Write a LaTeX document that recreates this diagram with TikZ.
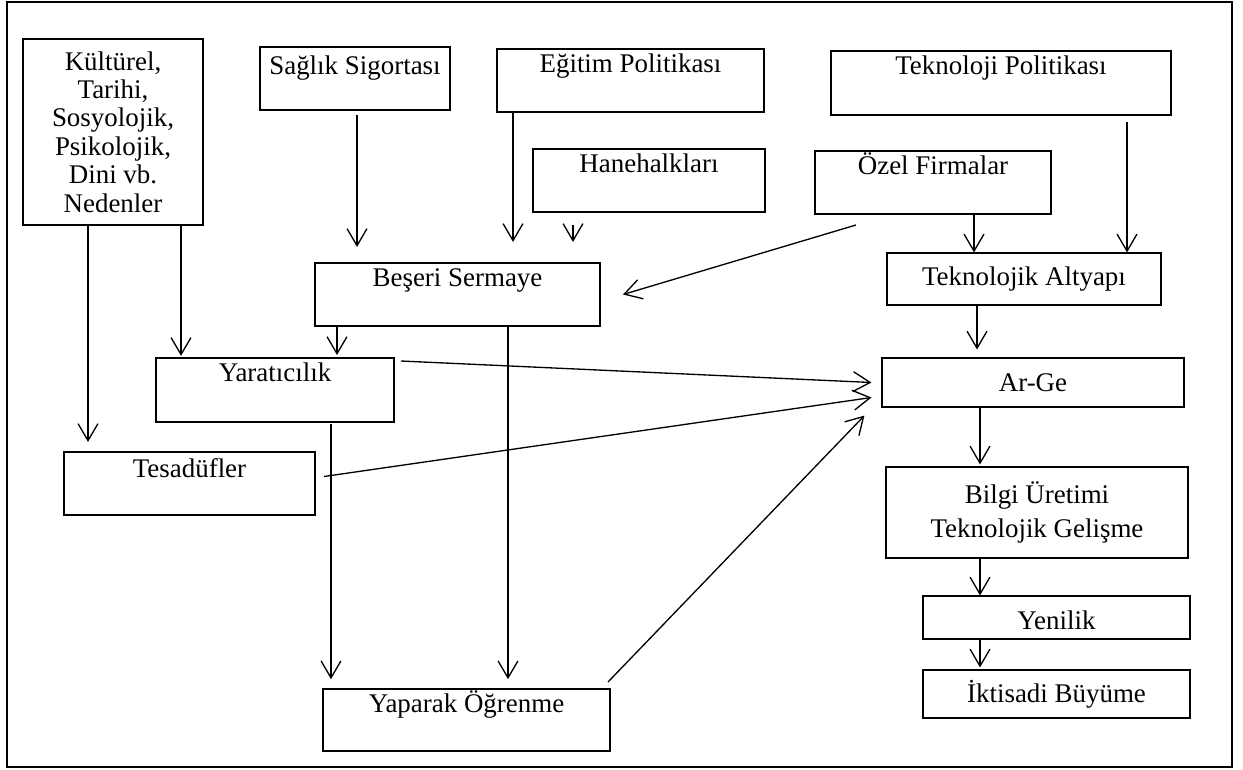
\documentclass[tikz,border=0pt]{standalone}
\usepackage{fontspec}
\setmainfont{Liberation Serif}
\usetikzlibrary{arrows.meta}
\tikzset{
    box/.style={draw,line width=0.9pt,inner sep=0pt},
    thinbox/.style={draw,line width=0.5pt,inner sep=0pt},
    sz/.style 2 args={minimum width=#1*0.453pt,minimum height=#2*0.453pt},
    toptext/.style={anchor=base,yshift=-#1,inner sep=0pt},
    arr/.style={line width=0.6pt,-{Straight Barb[length=7.7pt,width=9pt]}}
}
\begin{document}
\begin{tikzpicture}[x=0.453pt,y=-0.453pt,font=\fontsize{12.2}{12.9}\selectfont]
    \useasboundingbox (0,0) rectangle (1243,769);
    \draw[line width=0.9pt] (7,2) rectangle (1232,767);

    % left and middle column
    \node[box,sz={180}{186},align=center] (kultur) at (113,132)
        {Kültürel,\\Tarihi,\\Sosyolojik,\\Psikolojik,\\Dini vb.\\Nedenler};
    \node[box,sz={190}{63},label={[toptext=12.7pt]north:Sağlık Sigortası}] (saglik) at (355,78.5) {};
    \node[box,sz={267}{63},label={[toptext=11.3pt]north:Eğitim Politikası}] (egitim) at (630.5,80.5) {};
    \node[box,sz={232}{63},label={[toptext=10.9pt]north:Hanehalkları}] (hane) at (649,180.5) {};
    \node[box,sz={285}{63},label={[toptext=10.9pt]north:Beşeri Sermaye}] (beseri) at (457.5,294.5) {};
    \node[box,sz={238}{64},label={[toptext=11.3pt]north:Yaratıcılık}] (yarat) at (275,390) {};
    \node[box,sz={251}{63},label={[toptext=12.2pt]north:Tesadüfler}] (tesad) at (189.5,483.5) {};
    \node[box,sz={287}{62},label={[toptext=10.9pt]north:Yaparak Öğrenme}] (yaparak) at (466.5,720) {};

    % right column
    \node[box,sz={340}{64},label={[toptext=11.3pt]north:Teknoloji Politikası}] (teknopol) at (1001,83) {};
    \node[box,sz={236}{63},label={[toptext=11.3pt]north:Özel Firmalar}] (ozel) at (933,182.5) {};
    \node[thinbox,sz={274}{52}] (altyapi) at (1024,279) {Teknolojik Altyapı};
    \node[thinbox,sz={302}{49}] (arge) at (1033,382.5) {Ar-Ge};
    \node[thinbox,sz={302}{91},align=center,font=\fontsize{12.2}{15.4}\selectfont] (bilgi) at (1037,512.5)
        {Bilgi Üretimi\\Teknolojik Gelişme};
    \node[thinbox,sz={267}{43},label={[toptext=15.4pt]north:Yenilik}] (yenilik) at (1056.5,617.5) {};
    \node[thinbox,sz={267}{48}] (buyume) at (1056.5,694) {İktisadi Büyüme};

    % arrows
    \draw[arr,shorten >=4.1pt] (88,0 |- kultur.south) -- (88,0 |- tesad.north);
    \draw[arr,shorten >=0.5pt] (181,0 |- kultur.south) -- (181,0 |- yarat.north);
    \draw[arr,shorten <=1.8pt,shorten >=6.8pt] (357,0 |- saglik.south) -- (357,0 |- beseri.north);
    \draw[arr,shorten >=9.1pt] (513,0 |- egitim.south) -- (513,0 |- beseri.north);
    \draw[arr,shorten <=5.4pt,shorten >=9.1pt] (573,0 |- hane.south) -- (573,0 |- beseri.north);
    \draw[arr] ([shift={(42,10)}]ozel.south west) -- ([shift={(22,0)}]beseri.east);
    \draw[arr] (974,0 |- ozel.south) -- (974,0 |- altyapi.north);
    \draw[arr,shorten <=2.7pt] (1127,0 |- teknopol.south) -- (1127,0 |- altyapi.north);
    \draw[arr,shorten >=3.6pt] (977,0 |- altyapi.south) -- (977,0 |- arge.north);
    \draw[arr,shorten >=0.9pt] (337,0 |- beseri.south) -- (337,0 |- yarat.north);
    \draw[arr,shorten >=4pt] (508,0 |- beseri.south) -- (508,0 |- yaparak.north);
    \draw[arr,shorten <=0.5pt,shorten >=4pt] (331,0 |- yarat.south) -- (331,0 |- yaparak.north);
    \draw[arr] ([shift={(6,4)}]yarat.north east) -- ([shift={(-10,0)}]arge.west);
    \draw[arr] ([shift={(8,-7)}]tesad.east) -- ([shift={(-10,15)}]arge.west);
    \draw[arr] ([shift={(-3,-6)}]yaparak.north east) -- ([shift={(-17,8)}]arge.south west);
    \draw[arr,shorten >=0.9pt] (980,0 |- arge.south) -- (980,0 |- bilgi.north);
    \draw[arr] (980,0 |- bilgi.south) -- (980,0 |- yenilik.north);
    \draw[arr,shorten >=0.9pt] (980,0 |- yenilik.south) -- (980,0 |- buyume.north);
\end{tikzpicture}
\end{document}
